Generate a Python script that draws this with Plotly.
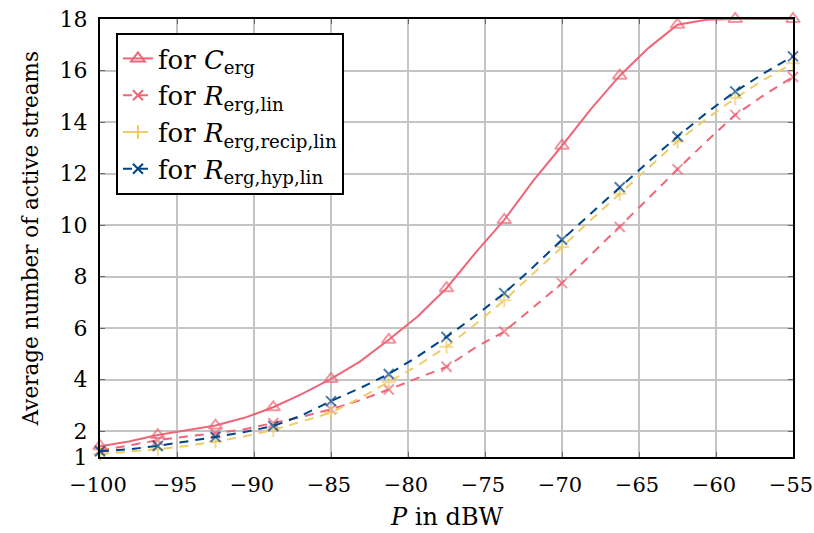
import plotly.graph_objects as go

# transmit power grid (dBW)
P = [-100, -98.125, -96.25, -94.375, -92.5, -90.625, -88.75, -86.875, -85,
     -83.125, -81.25, -79.375, -77.5, -75.625, -73.75, -71.875, -70,
     -68.125, -66.25, -64.375, -62.5, -60.625, -58.75, -56.875, -55]

C_erg = [1.42, 1.6, 1.85, 2.03, 2.22, 2.52, 2.93, 3.45, 4.03,
         4.7, 5.55, 6.45, 7.55, 8.92, 10.2, 11.72, 13.08,
         14.5, 15.8, 16.88, 17.78, 17.97, 18.0, 18.0, 18.0]

R_lin = [1.25, 1.45, 1.65, 1.8, 1.92, 2.08, 2.32, 2.56, 2.85,
         3.2, 3.62, 4.05, 4.5, 5.25, 5.87, 6.8, 7.75,
         8.85, 9.93, 11.05, 12.17, 13.25, 14.28, 15.05, 15.75]

R_recip = [1.12, 1.2, 1.3, 1.43, 1.6, 1.8, 2.05, 2.38, 2.72,
           3.28, 3.9, 4.55, 5.28, 6.15, 7.08, 8.1, 9.15,
           10.2, 11.22, 12.25, 13.25, 14.12, 14.93, 15.65, 16.28]

R_hyp = [1.22, 1.3, 1.43, 1.6, 1.78, 1.97, 2.2, 2.62, 3.17,
         3.67, 4.22, 4.9, 5.66, 6.48, 7.36, 8.37, 9.43,
         10.45, 11.47, 12.47, 13.44, 14.35, 15.19, 15.9, 16.55]

x_ticks = [-100, -95, -90, -85, -80, -75, -70, -65, -60, -55]
y_ticks = [1, 2, 4, 6, 8, 10, 12, 14, 16, 18]

RED = "#EE6677"
YEL = "#EECC66"
BLU = "#004488"
FONT = "DejaVu Serif"
DASH = "9px,7px"

series = [
    ("for <i>C</i><sub>erg</sub>", C_erg, RED, "solid", "triangle-up-open", 12),
    ("for <i>R</i><sub>erg,lin</sub>", R_lin, RED, DASH, "x-thin-open", 10),
    ("for <i>R</i><sub>erg,recip,lin</sub>", R_recip, YEL, DASH, "cross-thin-open", 10),
    ("for <i>R</i><sub>erg,hyp,lin</sub>", R_hyp, BLU, DASH, "x-thin-open", 10),
]

fig = go.Figure()
for name, ys, col, dash, sym, ms in series:
    sizes = [ms if i % 2 == 0 else 0 for i in range(len(P))]
    fig.add_trace(go.Scatter(
        x=P, y=ys, mode="lines+markers", showlegend=False,
        line=dict(color=col, width=2, dash=dash),
        marker=dict(symbol=sym, size=sizes, color=col, line=dict(color=col, width=2)),
        cliponaxis=False,
    ))
for name, ys, col, dash, sym, ms in series:
    fig.add_trace(go.Scatter(
        x=[None], y=[None], mode="lines+markers", name=name,
        line=dict(color=col, width=2, dash=dash),
        marker=dict(symbol=sym, size=ms, color=col, line=dict(color=col, width=2)),
    ))

axis_common = dict(
    showline=True, linecolor="black", linewidth=2, mirror="allticks",
    ticks="inside", ticklen=5, tickcolor="#666666", tickwidth=1,
    showgrid=True, gridcolor="#C4C4C4", gridwidth=1.5, zeroline=False,
    automargin=False, ticklabeloverflow="allow",
)

fig.update_layout(
    width=814, height=533,
    margin=dict(l=100, r=21, t=19, b=76),
    paper_bgcolor="white", plot_bgcolor="white",
    font=dict(family=FONT, size=22, color="black"),
    xaxis=dict(range=[-100, -55], tickvals=x_ticks, ticklabelstandoff=8, ticklabelshift=-2,
               tickfont=dict(family=FONT, size=21, color="black"), **axis_common),
    yaxis=dict(range=[1, 18], tickvals=y_ticks, ticklabelstandoff=6,
               tickfont=dict(family=FONT, size=22, color="black"), **axis_common),
    legend=dict(x=0.023, y=0.968, xanchor="left", yanchor="top",
                bgcolor="white", bordercolor="black", borderwidth=2,
                font=dict(family=FONT, size=26), tracegroupgap=0),
    annotations=[
        dict(text="<i>P</i> in dBW", xref="paper", yref="paper", x=0.5, y=-0.138,
             xanchor="center", yanchor="middle", showarrow=False,
             font=dict(family=FONT, size=24)),
        dict(text="Average number of active streams", xref="paper", yref="paper",
             x=-0.101, y=0.497, xanchor="center", yanchor="middle", textangle=-90,
             showarrow=False, font=dict(family=FONT, size=21.5)),
    ],
)

fig.write_html("out.html", post_script="document.body.style.margin='0';",
               config={"displayModeBar": False})
